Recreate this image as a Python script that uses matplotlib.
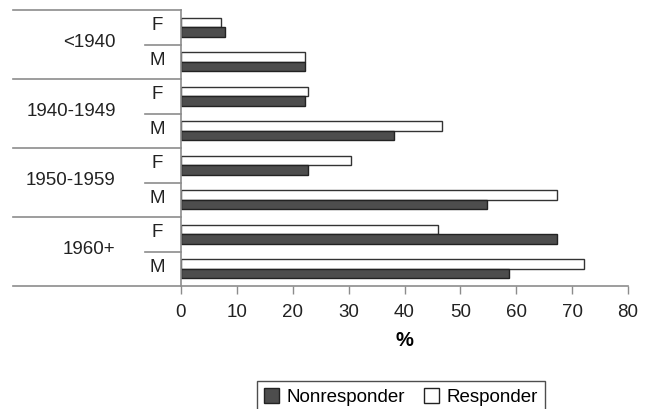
import matplotlib
matplotlib.use("Agg")
import matplotlib.pyplot as plt
from matplotlib.patches import Patch

plt.rcParams['font.family'] = ['Liberation Sans', 'DejaVu Sans']

# data
groups = ["<1940", "1940-1949", "1950-1959", "1960+"]
sexes = ["F", "M"]
nonresponder = [7.8, 22.2, 22.2, 38.1, 22.7, 54.7, 67.3, 58.7]
responder = [7.1, 22.2, 22.7, 46.7, 30.4, 67.3, 46.0, 72.1]

dark = "#4d4d4d"
line_c = "#8c8c8c"
fs = 13.5

fig = plt.figure(figsize=(6.52, 4.09), dpi=100)
W, H = 652, 409
ax = fig.add_axes([181 / W, 1 - 286 / H, (628 - 181) / W, (286 - 10) / H])

n = len(nonresponder)
h = 0.27
ys = [i + 0.5 for i in range(n)]
ax.barh([y - h / 2 for y in ys], responder, height=h, color="white",
        edgecolor="#333333", linewidth=1.0)
ax.barh([y + h / 2 for y in ys], nonresponder, height=h, color=dark,
        edgecolor="#222222", linewidth=1.0)

ax.set_xlim(0, 80)
ax.set_ylim(n, 0)
ax.set_yticks([])
ax.set_xticks(range(0, 81, 10))
ax.tick_params(axis="x", length=6, width=1, color=line_c, labelsize=fs,
               pad=7, labelcolor="#222222")
for s in ["top", "right", "bottom"]:
    ax.spines[s].set_visible(False)
ax.spines["left"].set_color(line_c)
ax.spines["left"].set_linewidth(1.2)

x_left = -30
# bottom axis line across the whole width
ax.plot([x_left, 80], [n, n], color=line_c, lw=1.2, clip_on=False)
# group separator lines and labels
for g in range(len(groups)):
    ax.plot([x_left, 0], [2 * g, 2 * g], color=line_c, lw=1.2, clip_on=False)
    ax.plot([-6.5, 0], [2 * g + 1, 2 * g + 1], color=line_c, lw=1.2, clip_on=False)
    ax.text(-11.7, 2 * g + 0.95, groups[g], ha="right", va="center",
            fontsize=fs, color="#222222")
    for k, s in enumerate(sexes):
        ax.text(-4.3, 2 * g + k + 0.45, s, ha="center", va="center",
                fontsize=fs, color="#222222")

ax.set_xlabel("%", fontsize=14.5, fontweight="bold", labelpad=7)

handles = [Patch(facecolor=dark, edgecolor="#222222", label="Nonresponder"),
           Patch(facecolor="white", edgecolor="#222222", label="Responder")]
leg = fig.legend(handles=handles, ncol=2, loc="center",
                 bbox_to_anchor=(401 / W, 1 - 397 / H), fontsize=fs,
                 frameon=True, fancybox=False, edgecolor="#222222",
                 handlelength=0.8, handleheight=0.8, handletextpad=0.4,
                 columnspacing=1.0, borderpad=0.4)
leg.get_frame().set_linewidth(1.0)

fig.savefig("out.png", dpi=100)
